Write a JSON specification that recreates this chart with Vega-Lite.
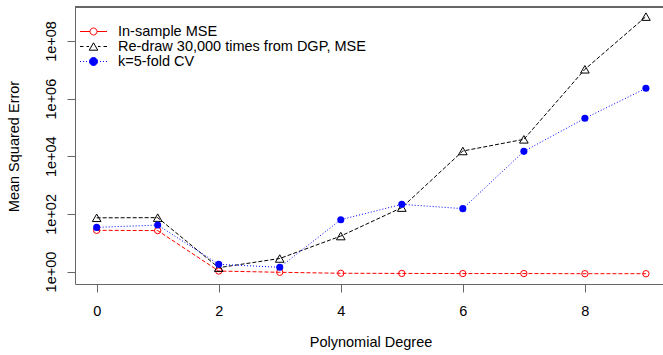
{
  "$schema": "https://vega.github.io/schema/vega-lite/v6.json",
  "width": 588,
  "height": 277,
  "autosize": "none",
  "padding": {"left": 75, "top": 7, "right": 0, "bottom": 71},
  "background": "white",
  "config": {
    "view": {"stroke": null},
    "font": "Liberation Sans"
  },
  "data": {
    "values": [
      {"degree": 0, "series": "In-sample MSE", "mse": 26.9},
      {"degree": 1, "series": "In-sample MSE", "mse": 26.3},
      {"degree": 2, "series": "In-sample MSE", "mse": 1.04},
      {"degree": 3, "series": "In-sample MSE", "mse": 0.94},
      {"degree": 4, "series": "In-sample MSE", "mse": 0.87},
      {"degree": 5, "series": "In-sample MSE", "mse": 0.86},
      {"degree": 6, "series": "In-sample MSE", "mse": 0.85},
      {"degree": 7, "series": "In-sample MSE", "mse": 0.85},
      {"degree": 8, "series": "In-sample MSE", "mse": 0.84},
      {"degree": 9, "series": "In-sample MSE", "mse": 0.84},
      {"degree": 0, "series": "Re-draw 30,000 times from DGP, MSE", "mse": 73},
      {"degree": 1, "series": "Re-draw 30,000 times from DGP, MSE", "mse": 74},
      {"degree": 2, "series": "Re-draw 30,000 times from DGP, MSE", "mse": 1.36},
      {"degree": 3, "series": "Re-draw 30,000 times from DGP, MSE", "mse": 2.83},
      {"degree": 4, "series": "Re-draw 30,000 times from DGP, MSE", "mse": 17},
      {"degree": 5, "series": "Re-draw 30,000 times from DGP, MSE", "mse": 165},
      {"degree": 6, "series": "Re-draw 30,000 times from DGP, MSE", "mse": 15200},
      {"degree": 7, "series": "Re-draw 30,000 times from DGP, MSE", "mse": 38600},
      {"degree": 8, "series": "Re-draw 30,000 times from DGP, MSE", "mse": 10400000},
      {"degree": 9, "series": "Re-draw 30,000 times from DGP, MSE", "mse": 700000000},
      {"degree": 0, "series": "k=5-fold CV", "mse": 34},
      {"degree": 1, "series": "k=5-fold CV", "mse": 41},
      {"degree": 2, "series": "k=5-fold CV", "mse": 1.78},
      {"degree": 3, "series": "k=5-fold CV", "mse": 1.4},
      {"degree": 4, "series": "k=5-fold CV", "mse": 63},
      {"degree": 5, "series": "k=5-fold CV", "mse": 214},
      {"degree": 6, "series": "k=5-fold CV", "mse": 152},
      {"degree": 7, "series": "k=5-fold CV", "mse": 14800},
      {"degree": 8, "series": "k=5-fold CV", "mse": 207000},
      {"degree": 9, "series": "k=5-fold CV", "mse": 2280000}
    ]
  },
  "encoding": {
    "x": {
      "field": "degree",
      "type": "quantitative",
      "scale": {"domain": [-0.355, 9.28], "nice": false, "zero": false},
      "axis": {
        "values": [0, 2, 4, 6, 8],
        "grid": false,
        "domain": true,
        "domainColor": "#666666",
        "tickColor": "#666666",
        "tickSize": 8,
        "labelPadding": 12,
        "labelFontSize": 14.5,
        "labelColor": "#000000",
        "labelFont": "Liberation Sans",
        "labelFlush": false,
        "title": "Polynomial Degree",
        "titleFont": "Liberation Sans",
        "titleFontSize": 14.5,
        "titleFontWeight": "normal",
        "titleColor": "#000000",
        "titleBaseline": "alphabetic",
        "titleY": 62.5,
        "titleX": 295.5
      }
    },
    "y": {
      "field": "mse",
      "type": "quantitative",
      "scale": {"type": "log", "domain": [0.369, 1510000000], "nice": false, "zero": false},
      "axis": {
        "values": [1, 100, 10000, 1000000, 100000000],
        "labelExpr": "'1e+0' + round(log(datum.value) / LN10)",
        "grid": false,
        "domain": true,
        "domainColor": "#666666",
        "tickColor": "#666666",
        "tickSize": 8,
        "labelPadding": 12,
        "labelAngle": 270,
        "labelAlign": "center",
        "labelBaseline": "alphabetic",
        "labelFontSize": 14.5,
        "labelColor": "#000000",
        "labelFont": "Liberation Sans",
        "labelFlush": false,
        "title": "Mean Squared Error",
        "titleFont": "Liberation Sans",
        "titleFontSize": 14.5,
        "titleFontWeight": "normal",
        "titleColor": "#000000",
        "titleAngle": 270,
        "titleAlign": "center",
        "titleBaseline": "alphabetic",
        "titleX": -57,
        "titleY": 139
      }
    }
  },
  "layer": [
    {
      "mark": {"type": "rule", "color": "#666666", "strokeWidth": 1},
      "encoding": {
        "x": null,
        "y": {"datum": 1510000000, "type": "quantitative"}
      }
    },
    {
      "transform": [{"filter": "datum.series === 'In-sample MSE'"}],
      "mark": {"type": "line", "color": "#ff0000", "strokeWidth": 1, "strokeDash": [4, 2]},
      "encoding": {}
    },
    {
      "transform": [{"filter": "datum.series === 'In-sample MSE'"}],
      "mark": {"type": "point", "shape": "circle", "size": 40, "filled": false, "color": "#ff0000", "strokeWidth": 1, "opacity": 1},
      "encoding": {}
    },
    {
      "transform": [{"filter": "datum.series === 'Re-draw 30,000 times from DGP, MSE'"}],
      "mark": {"type": "line", "color": "#000000", "strokeWidth": 1, "strokeDash": [4, 2]},
      "encoding": {}
    },
    {
      "transform": [{"filter": "datum.series === 'Re-draw 30,000 times from DGP, MSE'"}],
      "mark": {"type": "point", "shape": "triangle-up", "size": 75, "filled": false, "color": "#000000", "strokeWidth": 1, "opacity": 1},
      "encoding": {}
    },
    {
      "transform": [{"filter": "datum.series === 'k=5-fold CV'"}],
      "mark": {"type": "line", "color": "#0000ff", "strokeWidth": 1, "strokeDash": [1, 2]},
      "encoding": {}
    },
    {
      "transform": [{"filter": "datum.series === 'k=5-fold CV'"}],
      "mark": {"type": "point", "shape": "circle", "size": 50, "filled": true, "color": "#0000ff", "strokeWidth": 0, "opacity": 1},
      "encoding": {}
    },
    {
      "transform": [{"filter": "datum.degree < -100"}],
      "mark": {"type": "point", "strokeWidth": 1, "opacity": 1},
      "encoding": {
        "color": {
          "field": "series",
          "type": "nominal",
          "sort": null,
          "scale": {
            "domain": ["In-sample MSE", "Re-draw 30,000 times from DGP, MSE", "k=5-fold CV"],
            "range": ["#ff0000", "#000000", "#0000ff"]
          },
          "legend": {
            "title": null,
            "orient": "none",
            "legendX": 11,
            "legendY": 17,
            "padding": 0,
            "symbolSize": 196,
            "symbolStrokeWidth": 1,
            "symbolOpacity": 1,
            "labelOffset": 17,
            "rowPadding": 0,
            "labelFont": "Liberation Sans",
            "labelFontSize": 14.5,
            "labelColor": "#000000",
            "labelLimit": 400
          }
        },
        "shape": {
          "field": "series",
          "type": "nominal",
          "sort": null,
          "scale": {
            "domain": ["In-sample MSE", "Re-draw 30,000 times from DGP, MSE", "k=5-fold CV"],
            "range": [
              "M-1.93,0L-0.5,0M0.5,0L1.93,0M0.5,0A0.5,0.5,0,1,1,-0.5,0A0.5,0.5,0,1,1,0.5,0Z",
              "M-1.93,0L-1.43,0M-1,0L-0.64,0M0.64,0L1,0M1.43,0L1.93,0M0,-0.53L0.61,0.53L-0.61,0.53Z",
              "M-1.93,0L-1.79,0M-1.5,0L-1.36,0M-1.07,0L-0.93,0M0.93,0L1.07,0M1.36,0L1.5,0M1.79,0L1.93,0M0.57,0A0.57,0.57,0,1,1,-0.57,0A0.57,0.57,0,1,1,0.57,0Z"
            ]
          },
          "legend": {
            "title": null,
            "orient": "none",
            "legendX": 11,
            "legendY": 17,
            "padding": 0,
            "symbolSize": 196,
            "symbolStrokeWidth": 1,
            "symbolOpacity": 1,
            "labelOffset": 17,
            "rowPadding": 0,
            "labelFont": "Liberation Sans",
            "labelFontSize": 14.5,
            "labelColor": "#000000",
            "labelLimit": 400
          }
        },
        "fill": {
          "field": "series",
          "type": "nominal",
          "sort": null,
          "scale": {
            "domain": ["In-sample MSE", "Re-draw 30,000 times from DGP, MSE", "k=5-fold CV"],
            "range": ["transparent", "transparent", "#0000ff"]
          },
          "legend": {
            "title": null,
            "orient": "none",
            "legendX": 11,
            "legendY": 17,
            "padding": 0,
            "symbolSize": 196,
            "symbolStrokeWidth": 1,
            "symbolOpacity": 1,
            "labelOffset": 17,
            "rowPadding": 0,
            "labelFont": "Liberation Sans",
            "labelFontSize": 14.5,
            "labelColor": "#000000",
            "labelLimit": 400
          }
        }
      }
    }
  ]
}
